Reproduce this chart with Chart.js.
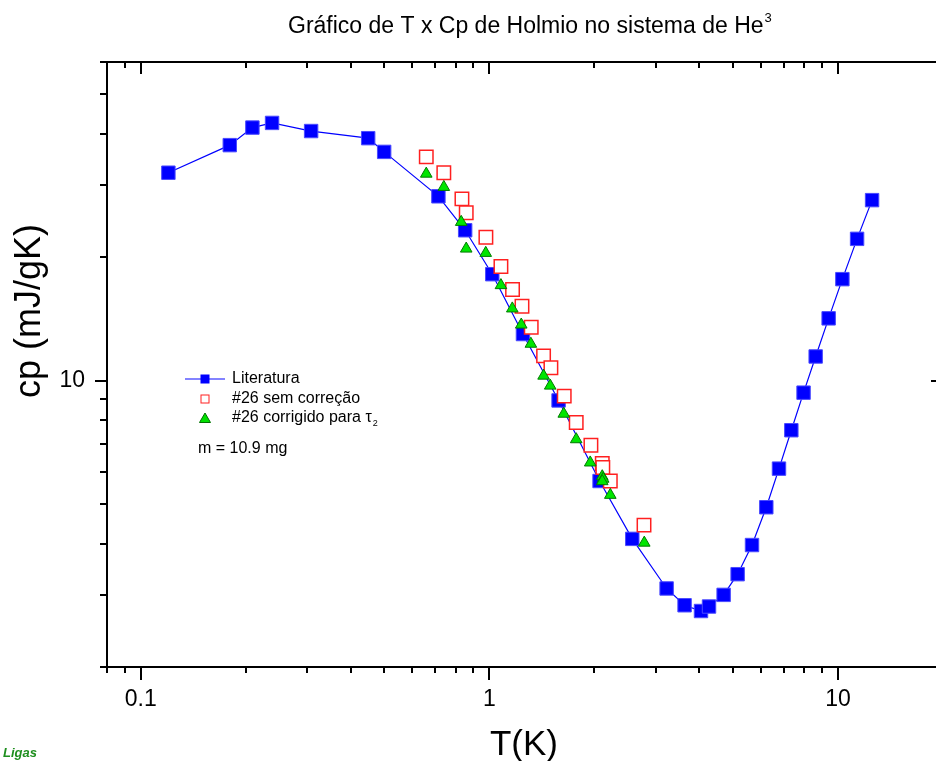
<!DOCTYPE html>
<html>
<head>
<meta charset="utf-8">
<script src="https://cdn.jsdelivr.net/npm/chart.js@4/dist/chart.umd.min.js"></script>
<style>
body{margin:0;background:#fff}
#wrap{width:936px;height:761px;overflow:hidden}
</style>
</head>
<body>
<div id="wrap"><canvas id="grafico" width="962" height="761"></canvas></div>
<script>
// Literatura (T em K, cp em mJ/gK)
const litT = [0.120,0.180,0.209,0.238,0.308,0.449,0.499,0.714,0.852,1.019,1.248,1.579,2.070,2.569,3.223,3.629,4.045,4.265,4.697,5.152,5.665,6.226,6.770,7.345,7.963,8.626,9.398,10.29,11.34,12.52]
const litCp = [32.2,37.6,41.5,42.6,40.7,39.1,36.2,28.2,23.3,18.2,13.0,8.95,5.69,4.11,3.11,2.83,2.74,2.81,3.00,3.37,3.97,4.91,6.10,7.57,9.35,11.46,14.2,17.7,22.2,27.6]

// #26 sem correcao
const semT = [0.659,0.740,0.834,0.858,0.977,1.079,1.165,1.240,1.318,1.430,1.501,1.639,1.774,1.955,2.107,2.115,2.222,2.776]
const semCp = [35.2,32.2,27.8,25.7,22.4,19.0,16.7,15.2,13.5,11.5,10.76,9.17,7.91,6.96,6.28,6.14,5.69,4.44]

// #26 corrigido para tau2
const corT = [0.659,0.740,0.830,0.858,0.976,1.079,1.163,1.234,1.315,1.430,1.494,1.634,1.774,1.946,2.107,2.120,2.107,2.222,2.781]
const corCp = [32.0,29.7,24.4,21.0,20.5,17.1,15.0,13.7,12.3,10.28,9.72,8.30,7.19,6.31,5.84,5.76,5.68,5.26,4.02]

const xTicks = [0.08,0.09,0.1,0.2,0.3,0.4,0.5,0.6,0.7,0.8,0.9,1,2,3,4,5,6,7,8,9,10,20]
const xLabels = [0.1,1,10]
const yTicks = [2,3,4,5,6,7,8,9,10,20,30,40,50,60]
const yLabels = [10]

const fonte = "'Liberation Sans', Arial, sans-serif"

const pontos = (xs, ys) => xs.map((v, i) => ({x: v, y: ys[i]}))

const moldura = {
  id: 'moldura',
  afterDraw(chart) {
    const ctx = chart.ctx
    const {left, right, top, bottom} = chart.chartArea
    const sx = chart.scales.x, sy = chart.scales.y
    ctx.save()
    ctx.strokeStyle = '#000'
    ctx.lineWidth = 2
    ctx.beginPath()
    xTicks.forEach(v => {
      const px = Math.round(sx.getPixelForValue(v))
      const maior = xLabels.includes(v)
      ctx.moveTo(px, bottom); ctx.lineTo(px, bottom + (maior ? 13 : 6))
      ctx.moveTo(px, top); ctx.lineTo(px, top + (maior ? 12 : 6))
    })
    yTicks.forEach(v => {
      const py = Math.round(sy.getPixelForValue(v))
      const maior = yLabels.includes(v)
      ctx.moveTo(left - (maior ? 12 : 7), py); ctx.lineTo(left, py)
      ctx.moveTo(right, py); ctx.lineTo(right - (maior ? 12 : 6), py)
    })
    ctx.stroke()
    ctx.strokeRect(left, top, right - left, bottom - top)

    // titulo
    ctx.fillStyle = '#000'
    ctx.textBaseline = 'alphabetic'
    ctx.textAlign = 'left'
    ctx.font = '23px ' + fonte
    const titulo = 'Gráfico de T x Cp de Holmio no sistema de He'
    ctx.fillText(titulo, 288, 33)
    const w = ctx.measureText(titulo).width
    ctx.font = '13px ' + fonte
    ctx.fillText('3', 288 + w + 1, 22)

    // titulos dos eixos
    ctx.font = '35px ' + fonte
    ctx.textAlign = 'center'
    ctx.textBaseline = 'middle'
    ctx.fillText('T(K)', 524, 745)
    ctx.save()
    ctx.translate(30, 311)
    ctx.rotate(-Math.PI / 2)
    ctx.font = '36px ' + fonte
    ctx.fillText('cp (mJ/gK)', 0, 0)
    ctx.restore()

    // legenda
    ctx.lineWidth = 1.5
    ctx.strokeStyle = '#5a5aff'
    ctx.beginPath(); ctx.moveTo(185, 379); ctx.lineTo(225, 379); ctx.stroke()
    ctx.fillStyle = '#0000ff'
    ctx.fillRect(200.5, 374.5, 9, 9)
    ctx.strokeStyle = '#ff2020'
    ctx.lineWidth = 1
    ctx.fillStyle = '#fff'
    ctx.fillRect(201, 395, 8, 8)
    ctx.strokeRect(201, 395, 8, 8)
    ctx.fillStyle = '#00e000'
    ctx.strokeStyle = '#007000'
    ctx.beginPath()
    ctx.moveTo(205, 413); ctx.lineTo(210.5, 422.5); ctx.lineTo(199.5, 422.5); ctx.closePath()
    ctx.fill(); ctx.stroke()

    ctx.fillStyle = '#000'
    ctx.textAlign = 'left'
    ctx.textBaseline = 'middle'
    ctx.font = '16px ' + fonte
    ctx.fillText('Literatura', 232, 379)
    ctx.fillText('#26 sem correção', 232, 399)
    const t3 = '#26 corrigido para τ'
    ctx.fillText(t3, 232, 418)
    const w3 = ctx.measureText(t3).width
    ctx.font = '9px ' + fonte
    ctx.fillText('2', 232 + w3 + 1, 424)
    ctx.font = '16px ' + fonte
    ctx.fillText('m = 10.9 mg', 198, 449)

    // marca
    ctx.font = 'italic bold 13px ' + fonte
    ctx.fillStyle = '#1f8f1f'
    ctx.fillText('Ligas', 3, 753)
    ctx.restore()
  }
}

new Chart(document.getElementById('grafico'), {
  type: 'scatter',
  data: {
    datasets: [
      {
        label: 'Literatura',
        data: pontos(litT, litCp),
        showLine: true,
        borderColor: '#0000ff',
        borderWidth: 1.2,
        backgroundColor: '#0000ff',
        pointStyle: 'rect',
        pointRadius: 9.5,
        pointBorderColor: '#4a4aff',
        pointBorderWidth: 1,
        order: 3
      },
      {
        label: '#26 sem correção',
        data: pontos(semT, semCp),
        backgroundColor: '#ffffff',
        borderColor: '#ff2020',
        borderWidth: 1.5,
        pointStyle: 'rect',
        pointRadius: 9.5,
        order: 2
      },
      {
        label: '#26 corrigido para τ2',
        data: pontos(corT, corCp),
        backgroundColor: '#00e600',
        borderColor: '#007a00',
        borderWidth: 1,
        pointStyle: 'triangle',
        pointRadius: 6.7,
        order: 1
      }
    ]
  },
  options: {
    responsive: false,
    animation: false,
    devicePixelRatio: 1,
    layout: {padding: {top: 62, right: 8, left: 0, bottom: 0}},
    plugins: {legend: {display: false}, tooltip: {enabled: false}},
    scales: {
      x: {
        type: 'logarithmic',
        min: 0.08,
        max: 20,
        grid: {display: false, drawTicks: false},
        border: {display: false},
        afterBuildTicks: s => { s.ticks = xTicks.map(v => ({value: v})) },
        afterFit: s => { s.height = 94 },
        ticks: {
          autoSkip: false, maxRotation: 0, padding: 19, color: '#000',
          font: {family: fonte, size: 23},
          callback: v => xLabels.includes(v) ? String(v) : ''
        }
      },
      y: {
        type: 'logarithmic',
        min: 2,
        max: 60,
        grid: {display: false, drawTicks: false},
        border: {display: false},
        afterBuildTicks: s => { s.ticks = yTicks.map(v => ({value: v})) },
        afterFit: s => { s.width = 107 },
        ticks: {
          autoSkip: false, padding: 22, color: '#000',
          font: {family: fonte, size: 23},
          callback: v => yLabels.includes(v) ? String(v) : ''
        }
      }
    }
  },
  plugins: [moldura]
})
</script>
</body>
</html>
